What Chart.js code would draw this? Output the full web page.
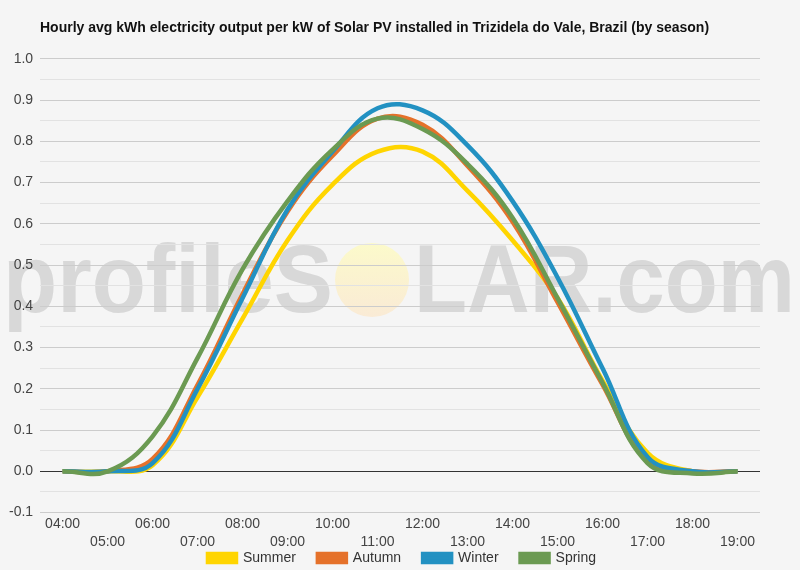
<!DOCTYPE html>
<html>
<head>
<meta charset="utf-8">
<script src="https://cdn.jsdelivr.net/npm/chart.js@4"></script>
<style>
  html, body { margin: 0; padding: 0; background: #f5f5f5; }
  #wrap { width: 800px; height: 570px; }
</style>
</head>
<body>
<div id="wrap"><canvas id="solarChart"></canvas></div>
<script>
const hours = ['04:00','05:00','06:00','07:00','08:00','09:00','10:00','11:00',
               '12:00','13:00','14:00','15:00','16:00','17:00','18:00','19:00'];

const summer = [0, 0, 0.015, 0.18, 0.37, 0.56, 0.695, 0.775, 0.775, 0.68, 0.56, 0.42, 0.22, 0.045, 0, 0];
const autumn = [0, 0, 0.03, 0.21, 0.43, 0.63, 0.765, 0.855, 0.84, 0.74, 0.605, 0.41, 0.21, 0.025, 0, 0];
const winter = [0, 0, 0.02, 0.2, 0.42, 0.635, 0.775, 0.88, 0.875, 0.79, 0.655, 0.47, 0.25, 0.035, 0, 0];
const spring = [0, 0, 0.085, 0.275, 0.49, 0.655, 0.78, 0.855, 0.83, 0.745, 0.615, 0.42, 0.215, 0.02, -0.005, 0];

const seasonNames = ['Summer', 'Autumn', 'Winter', 'Spring'];
const seasonColors = ['#ffd500', '#e5712a', '#2291c2', '#6b9a52'];

// watermark behind the grid, plus some position tweaks for title and legend
const watermark = {
    id: 'watermark',
    afterLayout(chart) {
        chart.titleBlock.left = 40;
        chart.legend.top -= 24;
        chart.legend.left += 21;
        chart.legend.right += 21;
    },
    beforeDraw(chart) {
        const ctx = chart.ctx;
        ctx.save();
        ctx.fillStyle = '#f5f5f5';
        ctx.fillRect(0, 0, chart.width, chart.height);
        ctx.font = 'bold 96px "Liberation Sans", Arial, sans-serif';
        ctx.fillStyle = '#d8d8d8';
        ctx.textBaseline = 'alphabetic';
        // squeeze the text into the space it takes in the original
        const fitText = (txt, x0, x1) => {
            const w = ctx.measureText(txt).width;
            ctx.save();
            ctx.translate(x0, 312);
            ctx.scale((x1 - x0) / w, 1);
            ctx.fillText(txt, 0, 0);
            ctx.restore();
        };
        fitText('profileS', 3, 333);
        const g = ctx.createLinearGradient(0, 243, 0, 317);
        g.addColorStop(0, 'rgba(252,250,200,0.95)');
        g.addColorStop(1, 'rgba(250,234,212,0.95)');
        ctx.fillStyle = g;
        ctx.beginPath();
        ctx.ellipse(372, 280, 37, 37, 0, 0, Math.PI * 2);
        ctx.fill();
        ctx.fillStyle = '#d8d8d8';
        fitText('LAR.com', 414, 795);
        ctx.restore();
    }
};

const ctx = document.getElementById('solarChart').getContext('2d');
new Chart(ctx, {
    type: 'line',
    data: {
        labels: hours,
        datasets: [summer, autumn, winter, spring].map((vals, i) => ({
            label: seasonNames[i],
            data: vals,
            borderColor: seasonColors[i],
            backgroundColor: seasonColors[i],
            borderWidth: 4.5,
            pointRadius: 0,
            tension: 0.4,
            fill: false,
            order: 4 - i
        }))
    },
    options: {
        responsive: true,
        maintainAspectRatio: false,
        animation: false,
        layout: { padding: { left: 2, right: 40, top: 8, bottom: 0 } },
        plugins: {
            title: {
                display: true,
                text: 'Hourly avg kWh electricity output per kW of Solar PV installed in Trizidela do Vale, Brazil (by season)',
                align: 'start',
                color: '#111',
                font: { family: '"Liberation Sans", Arial, sans-serif', size: 14, weight: 'bold' },
                padding: { top: 12, bottom: 22 }
            },
            legend: {
                position: 'bottom',
                maxHeight: 17,
                labels: {
                    boxWidth: 28,
                    boxHeight: 8,
                    color: '#333',
                    padding: 22,
                    font: { family: '"Liberation Sans", Arial, sans-serif', size: 14 },
                    sort: (a, b) => a.datasetIndex - b.datasetIndex
                }
            },
            tooltip: { enabled: false }
        },
        scales: {
            x: {
                offset: true,
                grid: { display: false, drawTicks: false },
                border: { display: false },
                ticks: {
                    autoSkip: false,
                    maxRotation: 0,
                    color: '#444',
                    padding: 2,
                    font: { family: '"Liberation Sans", Arial, sans-serif', size: 14, lineHeight: 1.3 },
                    callback: function (value, index) {
                        const lbl = this.getLabelForValue(value);
                        return index % 2 === 0 ? [lbl, ''] : ['', lbl];
                    }
                }
            },
            y: {
                min: -0.1,
                max: 1.0,
                border: { display: false },
                grid: {
                    drawTicks: false,
                    color: c => {
                        const v = Math.round(c.tick.value * 100);
                        if (v === 0) return '#333';
                        return v % 10 === 0 ? '#cccccc' : '#e2e2e2';
                    },
                    lineWidth: 1
                },
                ticks: {
                    stepSize: 0.05,
                    padding: 7,
                    color: '#444',
                    font: { family: '"Liberation Sans", Arial, sans-serif', size: 14 },
                    callback: v => {
                        const n = Math.round(v * 100);
                        return n % 10 === 0 ? (n / 100).toFixed(1) : '';
                    }
                }
            }
        }
    },
    plugins: [watermark]
});
</script>
</body>
</html>
